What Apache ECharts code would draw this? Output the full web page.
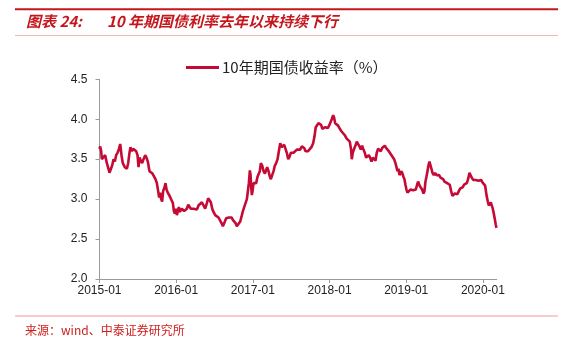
<!DOCTYPE html>
<html>
<head>
<meta charset="utf-8">
<script src="https://cdn.jsdelivr.net/npm/echarts@6/dist/echarts.min.js"></script>
<style>
html,body{margin:0;padding:0;background:#fff;}
#chart{width:562px;height:339px;}
</style>
</head>
<body>
<div id="chart"></div>
<script>
// Decimal-year dates and 10-year government bond yield (%)
const years = [
2015.000,2015.009,2015.022,2015.030,2015.052,2015.074,2015.096,2015.117,2015.130,2015.148,
2015.165,2015.183,2015.200,2015.217,2015.235,2015.252,2015.270,2015.287,2015.304,2015.330,
2015.357,2015.374,2015.391,2015.404,2015.422,2015.439,2015.457,2015.478,2015.496,2015.509,
2015.522,2015.539,2015.557,2015.574,2015.596,2015.613,2015.630,2015.652,2015.670,2015.691,
2015.713,2015.730,2015.748,2015.765,2015.778,2015.791,2015.804,2015.817,2015.830,2015.848,
2015.861,2015.874,2015.891,2015.909,2015.926,2015.943,2015.957,2015.970,2015.983,2015.996,
2016.009,2016.022,2016.035,2016.048,2016.061,2016.074,2016.087,2016.104,2016.122,2016.139,
2016.157,2016.174,2016.191,2016.209,2016.226,2016.248,2016.270,2016.291,2016.313,2016.335,
2016.357,2016.378,2016.400,2016.417,2016.435,2016.452,2016.470,2016.487,2016.509,2016.530,
2016.552,2016.574,2016.591,2016.609,2016.622,2016.635,2016.652,2016.670,2016.687,2016.704,
2016.722,2016.739,2016.757,2016.774,2016.791,2016.804,2016.817,2016.835,2016.852,2016.870,
2016.887,2016.904,2016.922,2016.935,2016.948,2016.961,2016.970,2016.978,2016.987,2016.996,
2017.009,2017.026,2017.043,2017.061,2017.078,2017.091,2017.104,2017.122,2017.139,2017.157,
2017.174,2017.187,2017.204,2017.222,2017.235,2017.252,2017.270,2017.287,2017.304,2017.322,
2017.339,2017.357,2017.374,2017.391,2017.409,2017.426,2017.443,2017.461,2017.478,2017.496,
2017.513,2017.530,2017.552,2017.574,2017.596,2017.617,2017.639,2017.652,2017.670,2017.687,
2017.704,2017.720,2017.742,2017.764,2017.786,2017.803,2017.820,2017.838,2017.855,2017.873,
2017.890,2017.907,2017.925,2017.942,2017.960,2017.977,2017.994,2018.012,2018.029,2018.047,
2018.060,2018.073,2018.090,2018.112,2018.134,2018.155,2018.177,2018.199,2018.221,2018.242,
2018.264,2018.281,2018.290,2018.303,2018.321,2018.338,2018.355,2018.373,2018.390,2018.408,
2018.425,2018.442,2018.460,2018.477,2018.495,2018.512,2018.529,2018.547,2018.564,2018.582,
2018.599,2018.616,2018.634,2018.651,2018.668,2018.686,2018.703,2018.721,2018.738,2018.755,
2018.773,2018.790,2018.808,2018.825,2018.842,2018.860,2018.873,2018.886,2018.899,2018.912,
2018.925,2018.938,2018.951,2018.964,2018.977,2018.990,2019.003,2019.016,2019.029,2019.042,
2019.055,2019.073,2019.090,2019.107,2019.125,2019.142,2019.155,2019.173,2019.190,2019.207,
2019.225,2019.238,2019.251,2019.264,2019.277,2019.290,2019.303,2019.316,2019.329,2019.342,
2019.360,2019.377,2019.394,2019.412,2019.429,2019.447,2019.464,2019.481,2019.499,2019.516,
2019.534,2019.551,2019.568,2019.586,2019.603,2019.616,2019.634,2019.651,2019.668,2019.686,
2019.703,2019.720,2019.738,2019.755,2019.773,2019.790,2019.807,2019.825,2019.838,2019.855,
2019.873,2019.890,2019.907,2019.925,2019.942,2019.960,2019.977,2019.994,2020.012,2020.029,
2020.047,2020.064,2020.077,2020.090,2020.103,2020.116,2020.129,2020.142,2020.155,2020.168,
2020.177
];
const yields = [
3.63,3.66,3.60,3.50,3.52,3.55,3.45,3.38,3.33,3.35,
3.42,3.50,3.47,3.55,3.58,3.62,3.69,3.55,3.45,3.40,
3.38,3.45,3.58,3.65,3.60,3.63,3.62,3.60,3.55,3.40,
3.52,3.48,3.45,3.50,3.55,3.52,3.47,3.35,3.33,3.32,
3.30,3.25,3.20,3.10,3.02,3.08,3.00,2.97,3.10,3.15,
3.20,3.12,3.08,3.05,3.03,2.98,2.95,2.85,2.82,2.88,
2.80,2.85,2.90,2.84,2.82,2.88,2.90,2.85,2.87,2.88,
2.93,2.95,2.88,2.87,2.88,2.90,2.87,2.92,2.93,2.96,
2.92,2.88,2.95,3.01,3.00,2.96,2.88,2.84,2.80,2.78,
2.77,2.75,2.70,2.66,2.64,2.72,2.76,2.78,2.77,2.75,
2.77,2.74,2.72,2.70,2.66,2.64,2.68,2.72,2.78,2.85,
2.90,2.92,3.00,3.10,3.20,3.36,3.30,3.15,3.05,3.10,
3.20,3.22,3.20,3.28,3.32,3.35,3.45,3.42,3.35,3.32,
3.30,3.40,3.35,3.28,3.25,3.30,3.35,3.42,3.45,3.50,
3.60,3.70,3.65,3.63,3.68,3.66,3.58,3.50,3.53,3.58,
3.60,3.58,3.60,3.62,3.64,3.62,3.66,3.67,3.64,3.60,
3.62,3.60,3.62,3.65,3.70,3.78,3.90,3.88,3.95,3.97,
3.93,3.88,3.87,3.90,3.88,3.89,3.92,3.94,4.00,4.05,
4.02,3.95,3.93,3.92,3.88,3.85,3.83,3.80,3.76,3.74,
3.72,3.62,3.50,3.58,3.63,3.67,3.72,3.73,3.66,3.62,
3.67,3.62,3.58,3.52,3.50,3.55,3.52,3.47,3.52,3.50,
3.48,3.58,3.63,3.62,3.60,3.64,3.66,3.67,3.64,3.62,
3.60,3.58,3.55,3.53,3.50,3.45,3.40,3.35,3.38,3.30,
3.28,3.35,3.32,3.28,3.25,3.18,3.12,3.08,3.06,3.10,
3.12,3.10,3.11,3.13,3.12,3.18,3.22,3.17,3.15,3.12,
3.07,3.10,3.22,3.28,3.35,3.42,3.47,3.45,3.38,3.33,
3.30,3.33,3.30,3.28,3.30,3.27,3.28,3.25,3.22,3.23,
3.20,3.22,3.18,3.10,3.04,3.02,3.07,3.08,3.06,3.10,
3.13,3.12,3.15,3.18,3.16,3.20,3.25,3.33,3.30,3.27,
3.24,3.22,3.24,3.25,3.23,3.22,3.24,3.21,3.20,3.17,
3.05,2.97,2.92,2.93,2.96,2.94,2.88,2.82,2.75,2.68,
2.64
];
const xTickYears = [2015, 2016, 2017, 2018, 2019, 2020];
const seriesName = '10年期国债收益率（%）';
const titleLabel = '图表 24:';
const titleText = '10 年期国债利率去年以来持续下行';
const sourceText = '来源：wind、中泰证券研究所';

const chart = echarts.init(document.getElementById('chart'), null, {renderer: 'canvas'});
const lineColor = '#C40A35';
const titleFont = 'italic bold 15px "Noto Sans CJK SC", sans-serif';
const option = {
  backgroundColor: '#fff',
  animation: false,
  graphic: [
    {type: 'rect', shape: {x: 15, y: 8.3, width: 543, height: 2}, style: {fill: '#C4161C'}},
    {type: 'text', left: 26, top: 14, style: {text: titleLabel, fill: '#C4161C', font: titleFont}},
    {type: 'text', left: 107, top: 14, style: {text: titleText, fill: '#C4161C', font: titleFont}},
    {type: 'rect', shape: {x: 15, y: 35, width: 543, height: 1}, style: {fill: '#F2B8B8'}},
    {type: 'rect', shape: {x: 15, y: 315.5, width: 543, height: 1}, style: {fill: '#EE9A9A'}},
    {type: 'text', left: 25, top: 324, style: {text: sourceText, fill: '#D02020', font: '12px "Noto Sans CJK SC", monospace'}}
  ],
  legend: {
    top: 55,
    left: 181,
    itemWidth: 33,
    itemHeight: 3,
    itemGap: 4,
    icon: 'rect',
    textStyle: {fontSize: 15, color: '#222', fontFamily: '"Noto Sans CJK SC", sans-serif', padding: [0, 0, 0, -2]},
    data: [seriesName]
  },
  grid: {left: 99.5, right: 65.3, top: 79.3, bottom: 60, containLabel: false},
  xAxis: {
    type: 'value',
    min: 2015,
    max: 2020.18,
    interval: 1,
    splitLine: {show: false},
    axisLine: {lineStyle: {color: '#9a9a9a', width: 1}},
    axisTick: {show: true, length: 4, lineStyle: {color: '#9a9a9a'}, customValues: xTickYears},
    axisLabel: {
      customValues: xTickYears,
      color: '#222', fontSize: 12, fontFamily: 'Arial, "Liberation Sans", sans-serif', margin: 6,
      formatter: v => Math.round(v) + '-01'
    }
  },
  yAxis: {
    type: 'value',
    min: 2.0,
    max: 4.5,
    interval: 0.5,
    splitLine: {show: false},
    axisLine: {show: true, lineStyle: {color: '#9a9a9a', width: 1}},
    axisTick: {show: true, length: 4, lineStyle: {color: '#9a9a9a'}},
    axisLabel: {color: '#222', fontSize: 12, fontFamily: 'Arial, "Liberation Sans", sans-serif', margin: 12,
      formatter: v => v.toFixed(1)}
  },
  series: [{
    name: seriesName,
    type: 'line',
    data: years.map((y, i) => [y, yields[i]]),
    showSymbol: false,
    symbol: 'none',
    lineStyle: {color: lineColor, width: 2.6},
    itemStyle: {color: lineColor}
  }]
};
chart.setOption(option);
</script>
</body>
</html>
